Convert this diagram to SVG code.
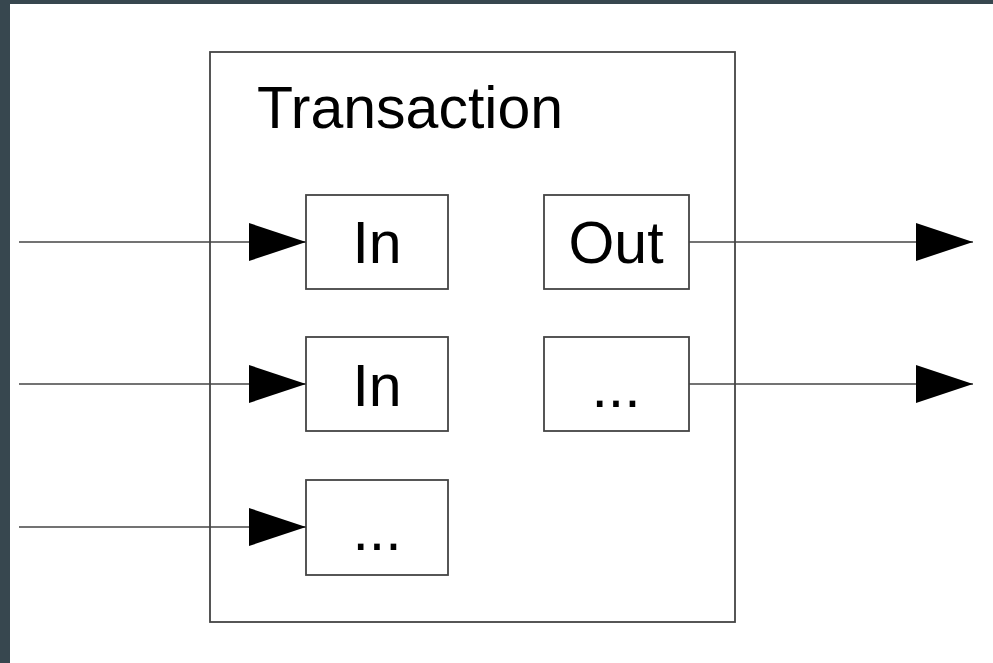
<svg xmlns="http://www.w3.org/2000/svg" width="993" height="663" viewBox="0 0 993 663">
  <style>
    .box { fill: #ffffff; stroke: #444444; stroke-width: 1.8; }
    .wire { fill: none; stroke: #444444; stroke-width: 1.5; }
    .label { font-family: "Liberation Sans", Arial, sans-serif; font-size: 59px; fill: #000000; }
  </style>
  <defs>
    <marker id="head" viewBox="0 0 57 38" refX="57" refY="19" markerWidth="57" markerHeight="38" markerUnits="userSpaceOnUse" orient="auto">
      <polygon points="0,0 57,19 0,38" fill="#000000"/>
    </marker>
  </defs>

  <!-- frame -->
  <rect x="0" y="0" width="993" height="663" fill="#37474f"/>
  <rect x="10" y="4" width="983" height="659" fill="#ffffff"/>

  <g id="transaction">
    <rect class="box" x="210" y="52" width="525" height="570"/>
    <text class="label" x="257" y="128" font-size="60">Transaction</text>
  </g>

  <g id="in1">
    <rect class="box" x="306" y="195" width="142" height="94"/>
    <text class="label" x="377" y="263" text-anchor="middle">In</text>
  </g>
  <g id="in2">
    <rect class="box" x="306" y="337" width="142" height="94"/>
    <text class="label" x="377" y="406" text-anchor="middle">In</text>
  </g>
  <g id="in3">
    <rect class="box" x="306" y="480" width="142" height="95"/>
    <text class="label" x="377" y="550" text-anchor="middle">...</text>
  </g>
  <g id="out1">
    <rect class="box" x="544" y="195" width="145" height="94"/>
    <text class="label" x="616" y="263" text-anchor="middle">Out</text>
  </g>
  <g id="out2">
    <rect class="box" x="544" y="337" width="145" height="94"/>
    <text class="label" x="616" y="407" text-anchor="middle">...</text>
  </g>

  <g id="connectors">
    <line class="wire" x1="19" y1="242" x2="306" y2="242" marker-end="url(#head)"/>
    <line class="wire" x1="19" y1="384" x2="306" y2="384" marker-end="url(#head)"/>
    <line class="wire" x1="19" y1="527" x2="306" y2="527" marker-end="url(#head)"/>
    <line class="wire" x1="689" y1="242" x2="973" y2="242" marker-end="url(#head)"/>
    <line class="wire" x1="689" y1="384" x2="973" y2="384" marker-end="url(#head)"/>
  </g>
</svg>
